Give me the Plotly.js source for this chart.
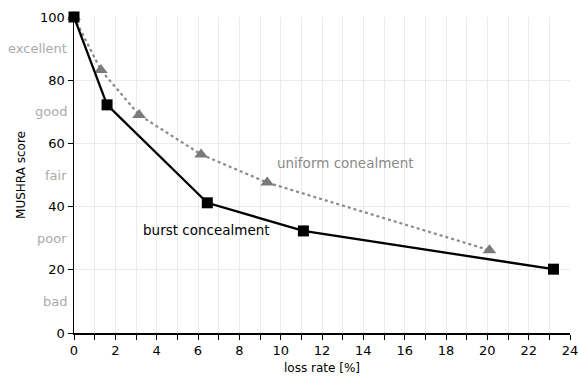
<!DOCTYPE html>
<html>
<head>
<meta charset="utf-8">
<script src="https://cdn.plot.ly/plotly-3.0.1.min.js"></script>
<style>html,body{margin:0;padding:0;background:#fff}#chart{width:578px;height:379px}</style>
</head>
<body>
<div id="chart"></div>
<script>
const burstX = [0, 1.6, 6.45, 11.1, 23.2];
const burstY = [100, 72.2, 41.2, 32.3, 20.2];
const uniformX = [0, 1.3, 3.15, 6.15, 9.35, 20.1];
const uniformY = [100, 83.2, 69, 56.5, 47.6, 26.2];
const qualityLabels = ["excellent", "good", "fair", "poor", "bad"];
const qualityY = [90, 70, 50, 30, 10];

const font = "DejaVu Sans, Liberation Sans, sans-serif";

const traces = [
  {
    x: uniformX, y: uniformY, type: "scatter", mode: "lines+markers",
    line: {color: "#8a8a8a", width: 2.2, dash: "dot"},
    marker: {symbol: "triangle-up", size: 12, color: "#7a7a7a"},
    cliponaxis: false, showlegend: false
  },
  {
    x: burstX, y: burstY, type: "scatter", mode: "lines+markers",
    line: {color: "#000", width: 2.3},
    marker: {symbol: "square", size: 11, color: "#000"},
    cliponaxis: false, showlegend: false
  }
];

const annotations = qualityLabels.map((t, i) => ({
  text: t, xref: "paper", yref: "y", x: 0, y: qualityY[i],
  xanchor: "right", xshift: -5, showarrow: false,
  font: {family: font, size: 13, color: "#aaaaaa"}
}));
annotations.push({
  text: "uniform conealment", xref: "x", yref: "y", x: 13.15, y: 53.8,
  showarrow: false, font: {family: font, size: 13.5, color: "#8a8a8a"}
});
annotations.push({
  text: "burst concealment", xref: "x", yref: "y", x: 6.39, y: 32.6,
  showarrow: false, font: {family: font, size: 13.5, color: "#000"}
});

const layout = {
  width: 578, height: 379,
  margin: {l: 74, r: 8, t: 17, b: 46},
  paper_bgcolor: "#fff", plot_bgcolor: "#fff",
  font: {family: font, size: 13, color: "#000"},
  xaxis: {
    range: [0, 24], dtick: 2, tick0: 0,
    showline: true, linecolor: "#000", linewidth: 1.5,
    ticks: "outside", ticklen: 5, tickcolor: "#000",
    ticklabeloverflow: "allow",
    showgrid: true, gridcolor: "#ebebeb", gridwidth: 1, zeroline: false,
    minor: {dtick: 1, tick0: 0, ticks: "outside", ticklen: 5, tickcolor: "#000", showgrid: true, gridcolor: "#ebebeb"},
    title: {text: "loss rate [%]", font: {family: font, size: 12}, standoff: 6},
    tickfont: {family: font, size: 13}
  },
  yaxis: {
    range: [0, 100], dtick: 20, tick0: 0,
    showline: true, linecolor: "#000", linewidth: 1.5,
    ticks: "outside", ticklen: 5, tickcolor: "#000",
    ticklabeloverflow: "allow",
    showgrid: true, gridcolor: "#ebebeb", gridwidth: 1, zeroline: false,
    title: {text: "MUSHRA score", font: {family: font, size: 12}, standoff: 12},
    tickfont: {family: font, size: 13}
  },
  annotations: annotations
};

Plotly.newPlot("chart", traces, layout, {displayModeBar: false, staticPlot: true});
</script>
</body>
</html>
